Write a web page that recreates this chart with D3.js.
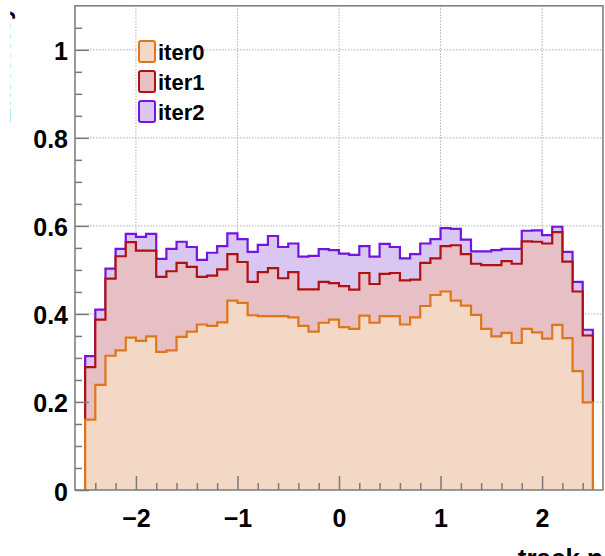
<!DOCTYPE html>
<html><head><meta charset="utf-8">
<script src="https://cdn.jsdelivr.net/npm/d3@7"></script>
<style>html,body{margin:0;padding:0;background:#fff;overflow:hidden}svg{display:block}</style>
</head><body>
<svg id="c" width="605" height="556"></svg>
<script>
const binLow = -2.5, binWidth = 0.1;
const seriesNames = ["iter0", "iter1", "iter2"];
const iter0 = [0.160,0.239,0.305,0.317,0.346,0.339,0.349,0.314,0.317,0.348,0.360,0.376,0.373,0.381,0.430,0.425,0.397,0.395,0.395,0.395,0.392,0.373,0.360,0.380,0.387,0.370,0.366,0.396,0.380,0.395,0.395,0.376,0.392,0.418,0.443,0.451,0.430,0.419,0.398,0.366,0.349,0.357,0.334,0.366,0.358,0.344,0.375,0.345,0.270,0.199];
const iter1 = [0.279,0.387,0.480,0.531,0.563,0.544,0.544,0.484,0.497,0.516,0.507,0.484,0.487,0.501,0.536,0.518,0.473,0.495,0.504,0.481,0.495,0.456,0.456,0.473,0.470,0.463,0.455,0.493,0.468,0.491,0.493,0.476,0.478,0.516,0.526,0.554,0.556,0.536,0.514,0.511,0.511,0.520,0.514,0.565,0.564,0.560,0.586,0.519,0.451,0.351];
const iter2 = [0.304,0.410,0.503,0.548,0.582,0.575,0.582,0.525,0.548,0.564,0.552,0.523,0.539,0.554,0.583,0.570,0.541,0.557,0.577,0.552,0.560,0.530,0.532,0.547,0.545,0.537,0.534,0.554,0.530,0.559,0.552,0.526,0.536,0.560,0.570,0.595,0.593,0.569,0.542,0.542,0.545,0.548,0.548,0.589,0.590,0.579,0.598,0.541,0.473,0.364];
const xMajorTicks = [-2, -1, 0, 1, 2];
const xMinorTicks = [-2.4,-2.2,-1.8,-1.6,-1.4,-1.2,-0.8,-0.6,-0.4,-0.2,0.2,0.4,0.6,0.8,1.2,1.4,1.6,1.8,2.2,2.4];
const yMajorTicks = [0, 0.2, 0.4, 0.6, 0.8, 1];
const yMinorTicks = [0.05,0.1,0.15,0.25,0.3,0.35,0.45,0.5,0.55,0.65,0.7,0.75,0.85,0.9,0.95,1.05];
const xTitle = "track η";
const yTitle = "Efficiency";

const lineColors = {iter0:"#e0761a", iter1:"#b01010", iter2:"#7414e0"};
const fillColors = {iter0:"#f2d8c5", iter1:"#e6c0c4", iter2:"#d9c7f2"};

const svg = d3.select("#c");
const L = 75, R = 603, T = 5.8, B = 490;
const x = d3.scaleLinear().domain([-2.6, 2.6]).range([L, R]);
const y = d3.scaleLinear().domain([0, 1.1]).range([B, T]);

// grid
const grid = svg.append("g").attr("stroke", "#b0b0b0").attr("stroke-width", 1).attr("stroke-dasharray", "1.5,1.5");
xMajorTicks.forEach(t => grid.append("line").attr("x1", x(t)).attr("x2", x(t)).attr("y1", B).attr("y2", T));
yMajorTicks.filter(t => t > 0).forEach(t => grid.append("line").attr("x1", L).attr("x2", R).attr("y1", y(t)).attr("y2", y(t)));

function stepPath(vals) {
  const p = d3.path();
  p.moveTo(x(binLow), y(0));
  vals.forEach((v, i) => {
    const x0 = x(binLow + i * binWidth), x1 = x(binLow + (i + 1) * binWidth);
    p.lineTo(x0, y(v)); p.lineTo(x1, y(v));
  });
  p.lineTo(x(binLow + vals.length * binWidth), y(0));
  return p.toString();
}
const data = {iter0, iter1, iter2};
["iter2", "iter1", "iter0"].forEach(n => {
  const d = stepPath(data[n]);
  svg.append("path").attr("d", d + "Z").attr("fill", fillColors[n]).attr("stroke", "none");
  svg.append("path").attr("d", d).attr("fill", "none").attr("stroke", lineColors[n]).attr("stroke-width", 2.2).attr("stroke-linejoin", "miter");
});

// axes
const axCol = "#7a7a7a";
const fmtY = d => d === 0 ? "0" : d === 1 ? "1" : d3.format(".1f")(d);
const fmtX = d3.format("d");
const xMaj = svg.append("g").attr("transform", `translate(0,${B})`)
  .call(d3.axisBottom(x).tickValues(xMajorTicks).tickSizeInner(-14).tickSizeOuter(0).tickPadding(19).tickFormat(fmtX));
const xMin = svg.append("g").attr("transform", `translate(0,${B})`)
  .call(d3.axisBottom(x).tickValues(xMinorTicks).tickSizeInner(-7).tickSizeOuter(0).tickFormat(""));
const yMaj = svg.append("g").attr("transform", `translate(${L},0)`)
  .call(d3.axisLeft(y).tickValues(yMajorTicks).tickSizeInner(-14).tickSizeOuter(0).tickPadding(7).tickFormat(fmtY));
const yMin = svg.append("g").attr("transform", `translate(${L},0)`)
  .call(d3.axisLeft(y).tickValues(yMinorTicks).tickSizeInner(-7).tickSizeOuter(0).tickFormat(""));
[xMaj, xMin, yMaj, yMin].forEach(g => {
  g.select(".domain").remove();
  g.selectAll(".tick line").attr("stroke", axCol).attr("stroke-width", 1.5);
  g.selectAll("text").attr("font-family", "'Liberation Sans', Arial, sans-serif")
    .attr("font-weight", "bold").attr("font-size", 25).attr("fill", "#000");
});
yMaj.selectAll("text").attr("dy", "0.4em");
xMaj.selectAll("text").attr("dy", "0.72em");

// frame
svg.append("rect").attr("x", L).attr("y", T).attr("width", R - L).attr("height", B - T)
  .attr("fill", "none").attr("stroke", axCol).attr("stroke-width", 1.5);

// titles
svg.append("text").attr("x", R).attr("y", 567).attr("text-anchor", "end")
  .attr("font-family", "'Liberation Sans', Arial, sans-serif").attr("font-weight", "bold").attr("font-size", 26)
  .text(xTitle);
svg.append("clipPath").attr("id", "ytclip").append("rect").attr("x", 10.2).attr("y", 0).attr("width", 40).attr("height", 200);
svg.append("g").attr("clip-path", "url(#ytclip)")
  .append("text").attr("transform", "translate(9.9,6) rotate(-90)").attr("text-anchor", "end")
  .attr("font-family", "'Liberation Sans', Arial, sans-serif").attr("font-weight", "bold").attr("font-size", 25)
  .text(yTitle);

// legend
const leg = svg.append("g");
seriesNames.forEach((n, i) => {
  const cy = 52 + i * 30;
  leg.append("rect").attr("x", 139).attr("y", cy - 11).attr("width", 16).attr("height", 21).attr("rx", 2)
    .attr("fill", fillColors[n]).attr("stroke", lineColors[n]).attr("stroke-width", 2);
  leg.append("text").attr("x", 158).attr("y", cy + 7.5)
    .attr("font-family", "'Liberation Sans', Arial, sans-serif").attr("font-weight", "bold").attr("font-size", 22)
    .text(n);
});
</script>
</body></html>
